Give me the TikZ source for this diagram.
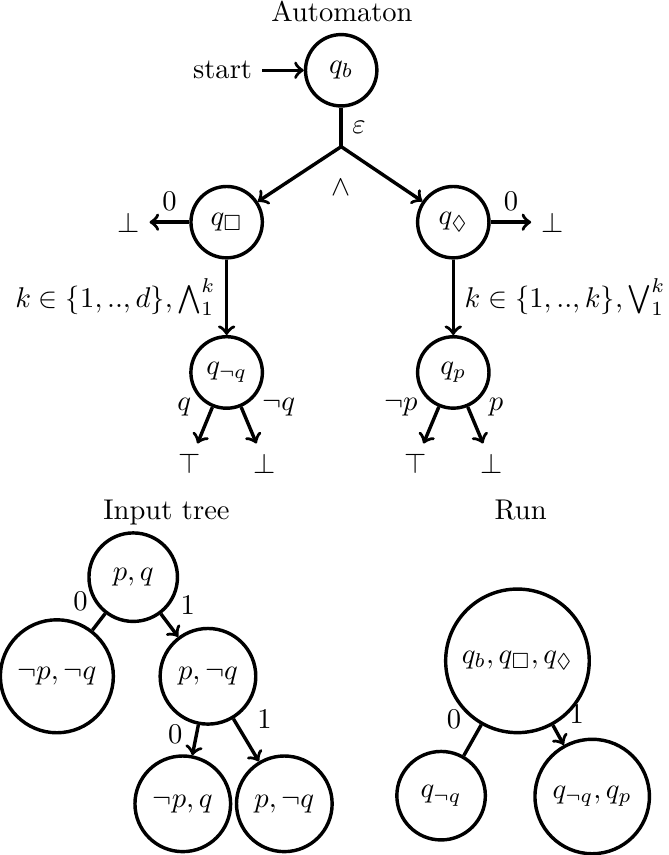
\documentclass[tikz,border=0pt]{standalone}
\usepackage{amsmath}
\usepackage{amssymb}

\tikzset{
  autstate/.style={circle, draw, very thick, minimum size=25pt},
  treenode/.style={circle, draw, very thick, minimum size=31pt, inner sep=4.5pt},
  trans/.style={very thick, ->},
}

\begin{document}
\begin{tikzpicture}
\useasboundingbox (0,0) rectangle (8.235,10.525);

% Automaton states
\node (autTitle) at (4.21,10.39) {Automaton};
\node (start) at (2.74,9.66) {start};
\node[autstate] (qb) at (4.20,9.66) {$q_b$};
\coordinate (split) at (4.20,8.72);
\node (andSym) at (4.20,8.22) {$\wedge$};
\node[autstate] (qbox) at (2.79,7.79) {$q_\Box$};
\node[autstate] (qdia) at (5.58,7.79) {$q_\Diamond$};
\node (botL) at (1.58,7.79) {$\bot$};
\node (botR) at (6.80,7.79) {$\bot$};
\node[autstate] (qnq) at (2.79,5.94) {$q_{\neg q}$};
\node[autstate] (qp) at (5.58,5.94) {$q_p$};
\node (topA) at (2.33,4.82) {$\top$};
\node (botA) at (3.26,4.82) {$\bot$};
\node (topB) at (5.11,4.82) {$\top$};
\node (botB) at (6.05,4.82) {$\bot$};

% Transitions
\draw[trans] (start) -- (qb);
\draw[very thick] (qb) -- node[right] {$\varepsilon$} (split);
\draw[trans] (split) -- (qbox);
\draw[trans] (split) -- (qdia);
\draw[trans] (qbox) -- node[above] {0} (botL);
\draw[trans] (qdia) -- node[above] {0} (botR);
\draw[trans] (qbox) -- node[left] {$k\in\{1,..,d\},\bigwedge_1^k$} (qnq);
\draw[trans] (qdia) -- node[right] {$k\in\{1,..,k\},\bigvee_1^k$} (qp);
\draw[trans] (qnq) -- node[at start, left=3.5pt] {$q$} (topA);
\draw[trans] (qnq) -- node[at start, right=3.5pt] {$\neg q$} (botA);
\draw[trans] (qp) -- node[at start, left=3.5pt] {$\neg p$} (topB);
\draw[trans] (qp) -- node[at start, right=3.5pt] {$p$} (botB);

% Input tree
\node[anchor=base] (inTitle) at (2.05,4.13) {Input tree};
\node[treenode] (t0) at (1.64,3.42) {$p,q$};
\node[treenode] (t00) at (0.70,2.20) {$\neg p,\neg q$};
\node[treenode] (t01) at (2.56,2.20) {$p,\neg q$};
\node[treenode] (t010) at (2.25,0.63) {$\neg p,q$};
\node[treenode] (t011) at (3.50,0.63) {$p,\neg q$};
\draw[very thick] (t0) -- node[above left] {0} (t00);
\draw[trans] (t0) -- node[above right] {1} (t01);
\draw[trans] (t01) -- node[pos=0.3, left=1pt] {0} (t010);
\draw[trans] (t01) -- node[above right] {1} (t011);

% Run
\node[anchor=base] (runTitle) at (6.41,4.13) {Run};
\node[treenode] (r0) at (6.37,2.39) {$q_b,q_\Box,q_\Diamond$};
\node[treenode] (r00) at (5.43,0.73) {$q_{\neg q}$};
\node[treenode] (r01) at (7.29,0.72) {$q_{\neg q},q_p$};
\draw[very thick] (r0) -- node[above left] {0} (r00);
\draw[trans] (r0) -- node[above right] {1} (r01);
\end{tikzpicture}
\end{document}
